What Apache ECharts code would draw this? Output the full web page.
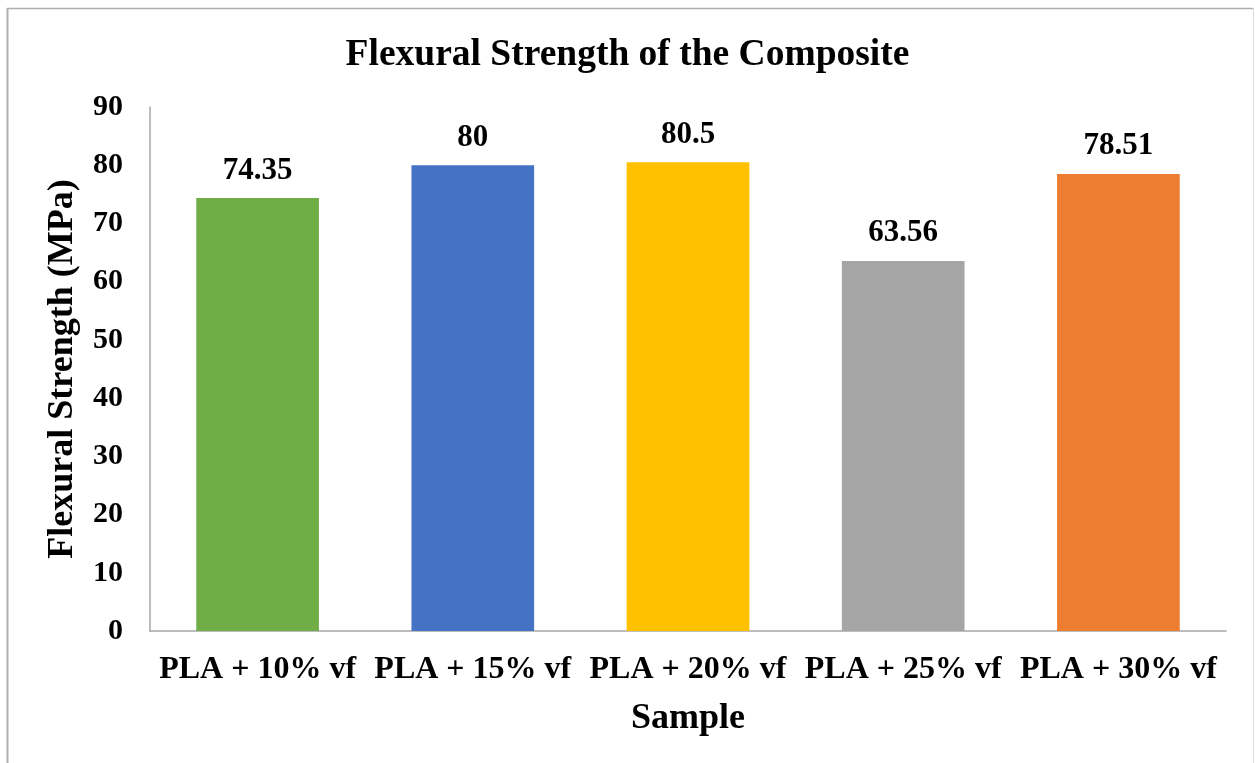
<!DOCTYPE html>
<html>
<head>
<meta charset="utf-8">
<script src="https://cdn.jsdelivr.net/npm/echarts@6/dist/echarts.min.js"></script>
<style>
html,body{margin:0;padding:0;background:#fff;}
#chart{width:1255px;height:763px;}
</style>
</head>
<body>
<div id="chart"></div>
<script>
const categories = ['PLA + 10% vf', 'PLA + 15% vf', 'PLA + 20% vf', 'PLA + 25% vf', 'PLA + 30% vf'];
const values = [74.35, 80, 80.5, 63.56, 78.51];
const barColors = ['#70AD47', '#4472C4', '#FFC000', '#A5A5A5', '#ED7D31'];
const yTicks = [0, 10, 20, 30, 40, 50, 60, 70, 80, 90];

const FONT = '"Liberation Serif", "Times New Roman", serif';
const chart = echarts.init(document.getElementById('chart'));
chart.setOption({
  backgroundColor: '#ffffff',
  animation: false,
  title: {
    text: 'Flexural Strength of the Composite',
    left: 'center',
    top: 31,
    textStyle: { fontFamily: FONT, fontWeight: 'bold', fontSize: 37.5, color: '#000' }
  },
  graphic: [
    { type: 'line', shape: { x1: 7.5, y1: 8, x2: 7.5, y2: 763 }, style: { stroke: '#AFAFAF', lineWidth: 2 } },
    { type: 'line', shape: { x1: 7, y1: 8.5, x2: 1253, y2: 8.5 }, style: { stroke: '#AFAFAF', lineWidth: 1.5 } },
    { type: 'line', shape: { x1: 1253.5, y1: 8, x2: 1253.5, y2: 763 }, style: { stroke: '#DCDCDC', lineWidth: 1 } }
  ],
  grid: { left: 150, right: 29, top: 107, bottom: 132, containLabel: false },
  xAxis: {
    type: 'category',
    data: categories,
    name: 'Sample',
    nameLocation: 'middle',
    nameGap: 70,
    nameTextStyle: { fontFamily: FONT, fontWeight: 'bold', fontSize: 36, color: '#000' },
    axisLine: { show: true, lineStyle: { color: '#A6A6A6', width: 1.5 } },
    axisTick: { show: false },
    axisLabel: { fontFamily: FONT, fontWeight: 'bold', fontSize: 32, color: '#000', margin: 23, interval: 0 }
  },
  yAxis: {
    type: 'value',
    min: 0,
    max: 90,
    interval: 10,
    name: 'Flexural Strength (MPa)',
    nameLocation: 'middle',
    nameGap: 69,
    nameTextStyle: { fontFamily: FONT, fontWeight: 'bold', fontSize: 36, color: '#000' },
    axisLine: { show: true, lineStyle: { color: '#A6A6A6', width: 1.5 } },
    axisTick: { show: false },
    splitLine: { show: false },
    axisLabel: {
      fontFamily: FONT, fontWeight: 'bold', fontSize: 30, color: '#000', margin: 27,
      formatter: function (v) { return yTicks.indexOf(v) >= 0 ? String(v) : ''; }
    }
  },
  series: [{
    type: 'bar',
    data: values.map((v, i) => ({ value: v, itemStyle: { color: barColors[i] } })),
    barWidth: '57%',
    label: {
      show: true,
      position: 'top',
      distance: 12,
      fontFamily: FONT, fontWeight: 'bold', fontSize: 31, color: '#000',
      formatter: function (p) { return String(p.value); }
    }
  }]
});
</script>
</body>
</html>
